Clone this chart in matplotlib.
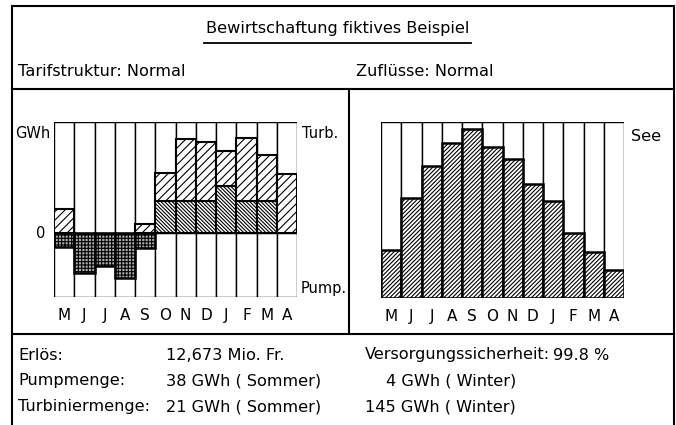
import matplotlib
matplotlib.use("Agg")
import matplotlib.pyplot as plt
from matplotlib.lines import Line2D
import numpy as np

plt.rcParams['font.family'] = ['DejaVu Sans']
plt.rcParams['hatch.linewidth'] = 0.8

months = ["M", "J", "J", "A", "S", "O", "N", "D", "J", "F", "M", "A"]

# left chart (GWh, arbitrary scale): turbine total, turbine base part, pump (negative)
turb_total = [7.6, 0, 0, 0, 2.8, 19.0, 29.8, 28.7, 25.8, 30.1, 24.6, 18.8]
turb_base = [0, 0, 0, 0, 0, 10.1, 10.1, 10.1, 14.9, 10.1, 10.1, 0]
pump = [-4.2, -12.3, -10.1, -14.1, -4.7, 0, 0, 0, 0, 0, 0, 0]

# right chart: lake level (%)
see = [27, 57, 75, 88, 96, 86, 79, 65, 55, 37, 26, 16]

W, H = 676, 425
fig = plt.figure(figsize=(W / 100, H / 100), dpi=100)


def fx(x):
    return x / W


def fy(y):
    return 1 - y / H


def hline(x0, x1, y, lw=1.5):
    fig.add_artist(Line2D([fx(x0), fx(x1)], [fy(y), fy(y)], color='black', lw=lw,
                          transform=fig.transFigure))


def vline(x, y0, y1, lw=1.5):
    fig.add_artist(Line2D([fx(x), fx(x)], [fy(y0), fy(y1)], color='black', lw=lw,
                          transform=fig.transFigure))


# frame
hline(12, 674, 6)
vline(12, 6, 425)
vline(674, 6, 425)
hline(12, 674, 89)
hline(12, 674, 334)
vline(349, 89, 334)

fs = 11.6
fs_small = 10.5
fig.text(fx(338), fy(28), "Bewirtschaftung fiktives Beispiel", ha='center', va='center', fontsize=fs)
hline(204, 471, 43, lw=1.3)
fig.text(fx(18), fy(71), "Tarifstruktur: Normal", ha='left', va='center', fontsize=fs)
fig.text(fx(356), fy(71), "Zuflüsse: Normal", ha='left', va='center', fontsize=fs)

# left axes
x = np.arange(len(months))
axL = fig.add_axes([fx(54), fy(297), fx(297) - fx(54), fy(122) - fy(297)])
yminL, ymaxL = -20, 35
axL.set_xlim(-0.5, 11.5)
axL.set_ylim(yminL, ymaxL)
axL.bar(x, [ymaxL - yminL] * 12, bottom=yminL, width=1, facecolor='white', edgecolor='black', lw=1.0, zorder=1)
upper_bottom = turb_base
upper_h = [t - b if t > 0 else 0 for t, b in zip(turb_total, turb_base)]
for i in range(12):
    if turb_base[i] > 0:
        axL.bar(x[i], turb_base[i], width=1, facecolor='white', edgecolor='black', lw=1.5,
                hatch='\\' * 9, zorder=2)
    if upper_h[i] > 0:
        axL.bar(x[i], upper_h[i], bottom=upper_bottom[i], width=1, facecolor='white', edgecolor='black',
                lw=1.5, hatch='////', zorder=2)
    if pump[i] < 0:
        axL.bar(x[i], pump[i], width=1, facecolor='#aaaaaa', edgecolor='black', lw=1.8,
                hatch='+++++', zorder=3)
axL.axhline(0, color='black', lw=1.0, zorder=2.5)
axL.set_yticks([])
axL.set_xticks(x)
axL.set_xticklabels(months, fontsize=11)
axL.tick_params(axis='x', length=0, pad=8)
for s in axL.spines.values():
    s.set_visible(False)

fig.text(fx(15), fy(133), "GWh", ha='left', va='center', fontsize=fs_small)
fig.text(fx(41), fy(234), "0", ha='center', va='center', fontsize=fs_small)
fig.text(fx(302), fy(133), "Turb.", ha='left', va='center', fontsize=fs_small)
fig.text(fx(301), fy(288), "Pump.", ha='left', va='center', fontsize=fs_small)

# right axes
axR = fig.add_axes([fx(381), fy(298), fx(624) - fx(381), fy(122) - fy(298)])
axR.set_xlim(-0.5, 11.5)
axR.set_ylim(0, 100)
axR.bar(x, [100] * 12, width=1, facecolor='white', edgecolor='black', lw=1.0, zorder=1)
axR.bar(x, see, width=1, facecolor='white', edgecolor='black', lw=1.8, hatch='/' * 8, zorder=2)
axR.set_yticks([])
axR.set_xticks(x)
axR.set_xticklabels(months, fontsize=11)
axR.tick_params(axis='x', length=0, pad=8)
for s in axR.spines.values():
    s.set_visible(False)
fig.text(fx(631), fy(137), "See", ha='left', va='center', fontsize=fs)

# bottom text
rows = [355, 381, 407]
fig.text(fx(18), fy(rows[0]), "Erlös:", ha='left', va='center', fontsize=fs)
fig.text(fx(166), fy(rows[0]), "12,673 Mio. Fr.", ha='left', va='center', fontsize=fs)
fig.text(fx(365), fy(rows[0]), "Versorgungssicherheit:", ha='left', va='center', fontsize=fs)
fig.text(fx(553), fy(rows[0]), "99.8 %", ha='left', va='center', fontsize=fs)
fig.text(fx(18), fy(rows[1]), "Pumpmenge:", ha='left', va='center', fontsize=fs)
fig.text(fx(166), fy(rows[1]), "38 GWh ( Sommer)", ha='left', va='center', fontsize=fs)
fig.text(fx(386), fy(rows[1]), "4 GWh ( Winter)", ha='left', va='center', fontsize=fs)
fig.text(fx(18), fy(rows[2]), "Turbiniermenge:", ha='left', va='center', fontsize=fs)
fig.text(fx(166), fy(rows[2]), "21 GWh ( Sommer)", ha='left', va='center', fontsize=fs)
fig.text(fx(365), fy(rows[2]), "145 GWh ( Winter)", ha='left', va='center', fontsize=fs)

fig.savefig("out.png", dpi=100, facecolor='white')
